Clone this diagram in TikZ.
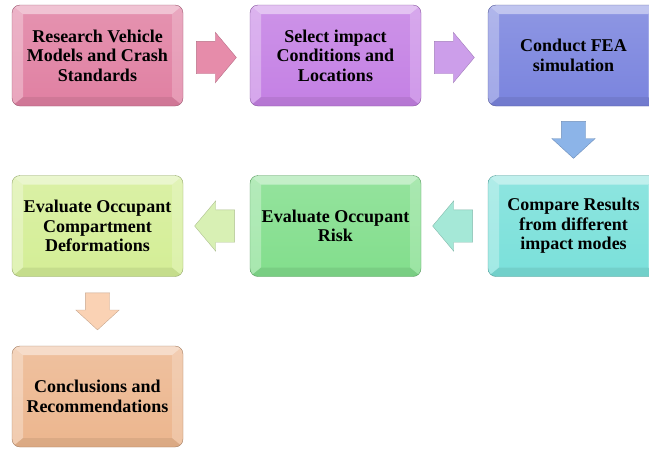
\documentclass[tikz,border=0pt]{standalone}
\usepackage{fontspec}
\setmainfont{Liberation Serif}
\usetikzlibrary{shapes.arrows,calc}
\tikzset{font=\bfseries\fontsize{18}{19.5}\selectfont}
\definecolor{researchpink}{RGB}{224,128,162}
\definecolor{selectviolet}{RGB}{196,128,228}
\definecolor{feablue}{RGB}{122,132,222}
\definecolor{compareaqua}{RGB}{122,224,218}
\definecolor{riskgreen}{RGB}{130,222,140}
\definecolor{deformlime}{RGB}{212,238,150}
\definecolor{concludepeach}{RGB}{236,182,142}
\definecolor{arrowpink}{RGB}{230,140,170}
\definecolor{arrowviolet}{RGB}{204,158,234}
\definecolor{arrowblue}{RGB}{140,180,232}
\definecolor{arrowaqua}{RGB}{165,232,215}
\definecolor{arrowlime}{RGB}{216,240,180}
\definecolor{arrowpeach}{RGB}{250,210,180}
\tikzset{
  bevel/.style={path picture={
    \fill[white,opacity=.45,sharp corners] (path picture bounding box.north west) -- (path picture bounding box.north east)
      -- ([shift={(-11pt,-9pt)}]path picture bounding box.north east) -- ([shift={(11pt,-9pt)}]path picture bounding box.north west) -- cycle;
    \fill[white,opacity=.3,sharp corners] (path picture bounding box.north west) -- ([shift={(11pt,-9pt)}]path picture bounding box.north west)
      -- ([shift={(11pt,9pt)}]path picture bounding box.south west) -- (path picture bounding box.south west) -- cycle;
    \fill[white,opacity=.2,sharp corners] (path picture bounding box.north east) -- ([shift={(-11pt,-9pt)}]path picture bounding box.north east)
      -- ([shift={(-11pt,9pt)}]path picture bounding box.south east) -- (path picture bounding box.south east) -- cycle;
    \fill[black,opacity=.07,sharp corners] (path picture bounding box.south west) -- ([shift={(11pt,9pt)}]path picture bounding box.south west)
      -- ([shift={(-11pt,9pt)}]path picture bounding box.south east) -- (path picture bounding box.south east) -- cycle;
  }},
  stage/.style={rectangle, rounded corners=8pt, minimum width=171pt, minimum height=101pt, inner sep=0pt,
    align=center, draw=#1!70!black, top color=#1!85!white, bottom color=#1, bevel},
  flow/.style={single arrow, draw=#1!80!black, fill=#1, inner xsep=0pt, inner ysep=16pt, single arrow head extend=9pt,
    single arrow tip angle=100, minimum width=50pt, minimum height=40pt, anchor=tail},
  downflow/.style={flow=#1, rotate=-90, inner ysep=12pt, single arrow head extend=9.5pt,
    minimum width=43pt, minimum height=37pt, single arrow tip angle=95}
}
\begin{document}
\begin{tikzpicture}[x=1pt,y=-1pt]
\useasboundingbox (0,0) rectangle (649,448);
\clip (0,0) rectangle (649,448);
% first row
\node[stage=researchpink] (research) at (97.5,55.5) {Research Vehicle\\Models and Crash\\Standards};
\node[stage=selectviolet] (select) at (335.5,55.5) {Select impact\\Conditions and\\Locations};
\node[stage=feablue] (fea) at (573.5,55.5) {Conduct FEA\\simulation};
% second row, right to left
\node[stage=compareaqua] (compare) at (573.5,226) {Compare Results\\from different\\impact modes};
\node[stage=riskgreen] (risk) at (335.5,226) {Evaluate Occupant\\Risk};
\node[stage=deformlime] (deform) at (97.5,226) {Evaluate Occupant\\Compartment\\Deformations};
% last row
\node[stage=concludepeach] (conclude) at (97.5,396.5) {Conclusions and\\Recommendations};

% block arrows, tail a small gap after the box they leave
\node[flow=arrowpink] (toselect) at ([shift={(13pt,-2pt)}]research.east) {};
\node[flow=arrowviolet] (tofea) at ([shift={(13pt,-2pt)}]select.east) {};
\node[downflow=arrowblue] (tocompare) at ([yshift=-15pt]fea.south) {};
\node[flow=arrowaqua, rotate=180] (torisk) at ([xshift=-15pt]compare.west) {};
\node[flow=arrowlime, rotate=180] (todeform) at ([xshift=-15pt]risk.west) {};
\node[downflow=arrowpeach] (toconclude) at ([yshift=-16pt]deform.south) {};
\end{tikzpicture}
\end{document}
